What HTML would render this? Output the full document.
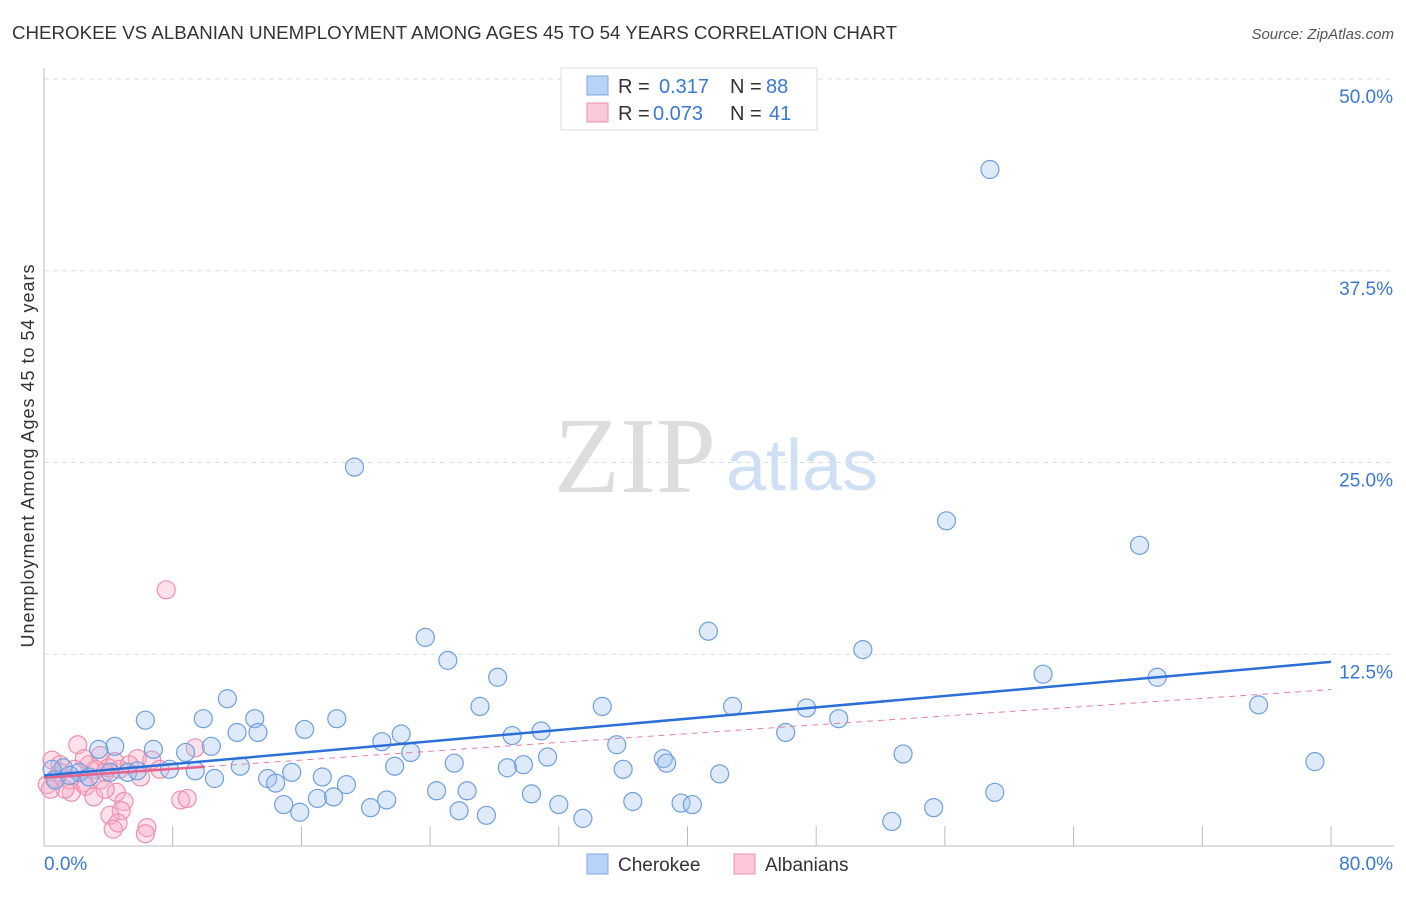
<!DOCTYPE html>
<html><head><meta charset="utf-8"><style>
body{margin:0;background:#fff;font-family:"Liberation Sans",sans-serif;}
</style></head><body>
<svg width="1406" height="892" xmlns="http://www.w3.org/2000/svg">
<text x="12" y="39" font-size="18" fill="#333" textLength="885" lengthAdjust="spacingAndGlyphs">CHEROKEE VS ALBANIAN UNEMPLOYMENT AMONG AGES 45 TO 54 YEARS CORRELATION CHART</text>
<text x="1394" y="39" font-size="15" fill="#555" font-style="italic" text-anchor="end">Source: ZipAtlas.com</text>
<text x="635" y="492" font-size="108" fill="#ddd" font-family="Liberation Serif,serif" text-anchor="middle">ZIP</text>
<text x="802" y="490" font-size="72" fill="#cfe0f5" text-anchor="middle">atlas</text>
<g id="grid"></g><g id="pts"></g><g id="lines"></g>
<text transform="translate(34,456) rotate(-90)" font-size="18" fill="#333" text-anchor="middle" textLength="383">Unemployment Among Ages 45 to 54 years</text>
<text x="44" y="870" font-size="19" fill="#3a78d4">0.0%</text>
<text x="1393" y="870" font-size="19" fill="#3a78d4" text-anchor="end">80.0%</text>
<g>
<rect x="561" y="68" width="256" height="62" fill="#fff" stroke="#ddd"/>
<rect x="587" y="76" width="21" height="19" fill="#b8d3f5" stroke="#7aa8e6"/>
<rect x="587" y="103" width="21" height="19" fill="#fbc8d7" stroke="#ef8fae"/>
<text x="618" y="93" font-size="20" fill="#333">R =</text>
<text x="659" y="93" font-size="20" fill="#3a78d4">0.317</text>
<text x="730" y="93" font-size="20" fill="#333">N =</text>
<text x="766" y="93" font-size="20" fill="#3a78d4">88</text>
<text x="618" y="120" font-size="20" fill="#333">R =</text>
<text x="653" y="120" font-size="20" fill="#3a78d4">0.073</text>
<text x="730" y="120" font-size="20" fill="#333">N =</text>
<text x="769" y="120" font-size="20" fill="#3a78d4">41</text>
</g>
<g>
<rect x="587" y="854" width="21" height="20" fill="#b8d3f5" stroke="#7aa8e6"/>
<text x="618" y="871" font-size="19" fill="#333">Cherokee</text>
<rect x="734" y="854" width="21" height="20" fill="#fbc8d7" stroke="#ef8fae"/>
<text x="765" y="871" font-size="19" fill="#333">Albanians</text>
</g>
</svg>
<script>
const yTicks=[12.5,25,37.5,50];
const yTickLabels=["12.5%","25.0%","37.5%","50.0%"];
const xTicks=[0,8,16,24,32,40,48,56,64,72,80];
const cherokeeX=[58.8,19.3,56.1,68.1,23.7,41.3,25.1,50.9,62.1,69.2,28.2,11.4,27.1,34.7,42.8,47.4,75.5,6.3,9.9,13.1,18.2,49.4,12.0,13.3,16.2,22.2,29.1,30.9,46.1,21.0,22.8,35.6,10.4,6.8,8.8,4.4,3.4,53.4,38.5,38.7,31.3,25.5,29.8,21.8,12.2,36.0,28.8,79.0,7.8,9.4,42.0,15.4,17.3,13.9,14.4,10.6,18.8,5.2,5.8,1.2,2.2,0.5,24.4,26.3,30.3,59.1,17.0,18.0,21.3,14.9,36.6,39.6,40.3,32.0,20.3,55.3,25.8,15.9,27.5,33.5,52.7,0.7,2.8,4.1,1.6];
const cherokeeY=[44.1,24.7,21.2,19.6,13.6,14.0,12.1,12.8,11.2,11.0,11.0,9.6,9.1,9.1,9.1,9.0,9.2,8.2,8.3,8.3,8.3,8.3,7.4,7.4,7.6,7.3,7.2,7.5,7.4,6.8,6.1,6.6,6.5,6.3,6.1,6.5,6.3,6.0,5.7,5.4,5.8,5.4,5.3,5.2,5.2,5.0,5.1,5.5,5.0,4.9,4.7,4.8,4.5,4.4,4.1,4.4,4.0,4.8,4.9,5.1,4.8,5.0,3.6,3.6,3.4,3.5,3.1,3.2,3.0,2.7,2.9,2.8,2.7,2.7,2.5,2.5,2.3,2.2,2.0,1.8,1.6,4.3,4.5,4.8,4.6];
const albanianX=[7.6,2.1,9.4,0.5,3.5,5.8,6.7,2.8,4.4,1.0,1.6,2.4,3.5,3.8,4.7,0.2,0.7,1.7,2.6,3.1,4.5,4.97,4.8,8.5,8.9,4.1,4.6,4.3,6.4,6.3,1.3,4.0,5.3,2.5,1.0,3.2,1.9,6.0,0.4,7.2,3.8];
const albanianY=[16.7,6.6,6.4,5.6,5.9,5.7,5.6,5.3,5.5,4.8,4.3,4.1,4.3,4.8,5.0,4.0,4.4,3.5,3.9,3.2,3.5,2.9,2.3,3.0,3.1,2.0,1.5,1.1,1.2,0.8,3.7,5.1,5.3,5.7,5.3,5.0,5.0,4.5,3.7,5.0,3.7];
const cherokeeTrend=[4.6,12.0];
const albanianTrend=[4.45,10.2];
const albanianSolidEnd=10;
const NS="http://www.w3.org/2000/svg";
const X=v=>44+v/80*1287, Y=v=>846-v/50*767;
function mk(t,a,p){const e=document.createElementNS(NS,t);for(const k in a)e.setAttribute(k,a[k]);p.appendChild(e);return e;}
const grid=document.getElementById('grid');
yTicks.forEach((t,i)=>{
 const l=mk('line',{x1:44,x2:1394,y1:Y(t),y2:Y(t),stroke:'#ddd','stroke-dasharray':'5,4'},grid);
 
 
 const tx=mk('text',{x:1393,y:Y(t)+24,'font-size':19,fill:'#3a78d4','text-anchor':'end'},grid);
 tx.textContent=yTickLabels[i];
 
 
});
const ax=mk('line',{x1:44,x2:1394,y1:846,y2:846,stroke:'#bbb'},grid);


const ay=mk('line',{x1:44,x2:44,y1:68,y2:846,stroke:'#bbb'},grid);


xTicks.forEach(t=>{
 const l=mk('line',{x1:X(t),x2:X(t),y1:826,y2:846,stroke:'#bbb'},grid);
 
 
});
const pts=document.getElementById('pts');
albanianX.forEach((x,i)=>{
 const c=mk('circle',{cx:X(x),cy:Y(albanianY[i]),r:9,fill:'rgba(248,170,195,0.35)',stroke:'#ee8fae','stroke-width':1.2},pts);
 
 
});
cherokeeX.forEach((x,i)=>{
 const c=mk('circle',{cx:X(x),cy:Y(cherokeeY[i]),r:9,fill:'rgba(160,195,240,0.35)',stroke:'#6e9fe0','stroke-width':1.2},pts);
 
 
});
const lines=document.getElementById('lines');
const ya=v=>albanianTrend[0]+(albanianTrend[1]-albanianTrend[0])*v/80;
const l1=mk('line',{x1:X(0),y1:Y(albanianTrend[0]),x2:X(80),y2:Y(albanianTrend[1]),stroke:'#e67fa3','stroke-width':1,'stroke-dasharray':'6,5'},lines);


const l2=mk('line',{x1:X(0),y1:Y(albanianTrend[0]),x2:X(albanianSolidEnd),y2:Y(ya(albanianSolidEnd)),stroke:'#e4668f','stroke-width':2.5},lines);


const l3=mk('line',{x1:X(0),y1:Y(cherokeeTrend[0]),x2:X(80),y2:Y(cherokeeTrend[1]),stroke:'#2c6fd6','stroke-width':2.5},lines);


</script>
</body></html>
